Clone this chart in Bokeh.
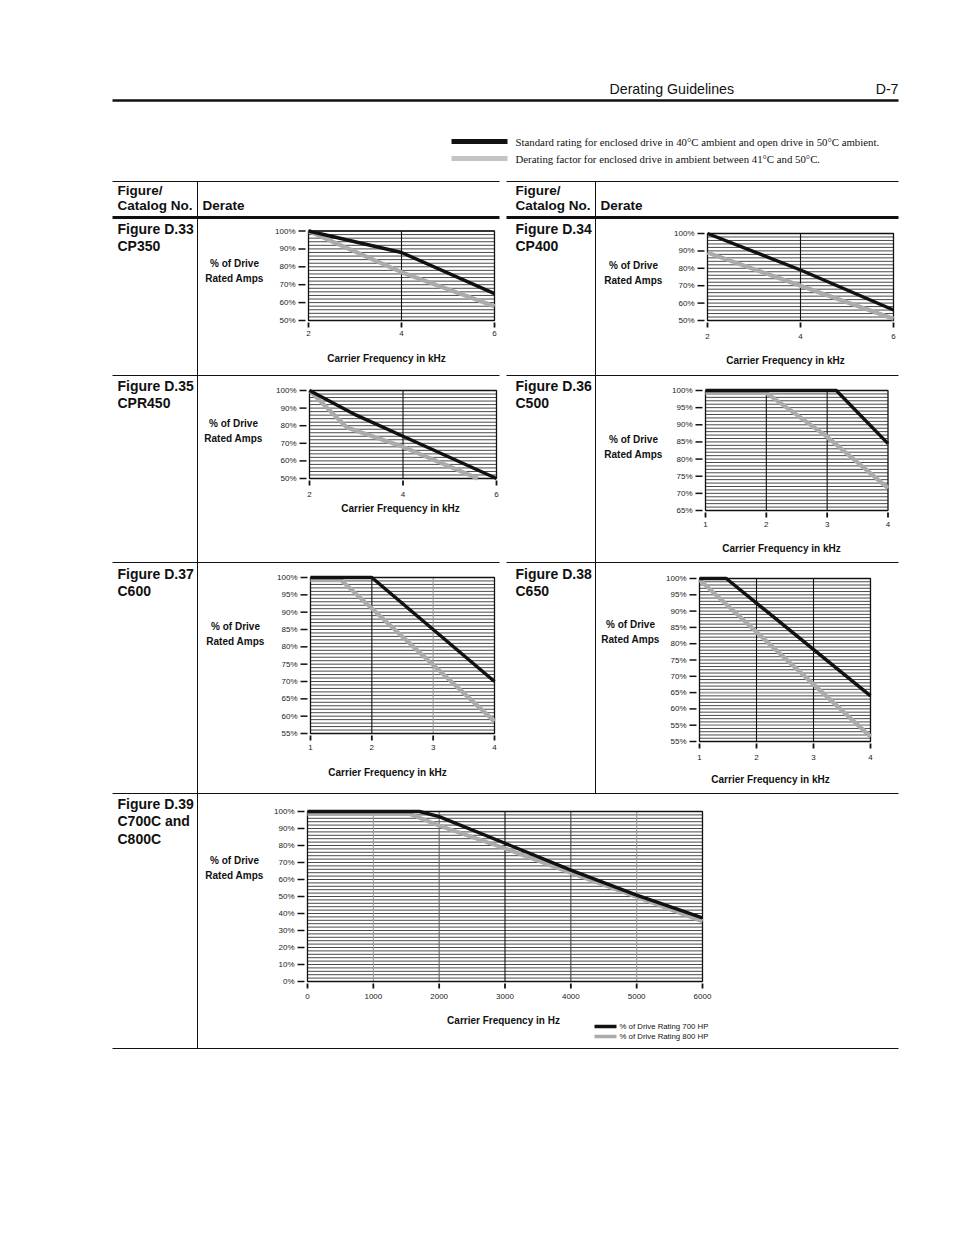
import numpy as np
from bokeh.plotting import figure
from bokeh.models import Range1d
from bokeh.core.properties import value
from bokeh.embed import file_html
from bokeh.resources import INLINE

# ---------------- data ----------------
# Figure D.33  CP350
d33_std_khz = [2, 4, 6]
d33_std_pct = [100, 88, 65]
d33_der_khz = [2, 4, 6]
d33_der_pct = [100, 77, 58]
# Figure D.34  CP400
d34_std_khz = [2, 4, 6]
d34_std_pct = [100, 79, 56]
d34_der_khz = [2, 4, 6]
d34_der_pct = [89, 70, 51]
# Figure D.35  CPR450
d35_std_khz = [2, 3, 4, 6]
d35_std_pct = [100, 86, 74, 50]
d35_der_khz = [2, 2.8, 4, 5.6]
d35_der_pct = [100, 79, 68, 50]
# Figure D.36  C500
d36_std_khz = [1, 3.15, 4]
d36_std_pct = [100, 100, 84.5]
d36_der_khz = [1, 2, 3, 4]
d36_der_pct = [99.3, 99.3, 86.5, 71.5]
# Figure D.37  C600
d37_std_khz = [1, 2, 4]
d37_std_pct = [100, 100, 70]
d37_der_khz = [1, 1.5, 4]
d37_der_pct = [99.2, 99.2, 58.5]
# Figure D.38  C650
d38_std_khz = [1, 1.47, 4]
d38_std_pct = [100, 100, 64]
d38_der_khz = [1, 4]
d38_der_pct = [99.6, 51.5]
# Figure D.39  C700C and C800C
d39_700_hz = [0, 1700, 2000, 3000, 4000, 5000, 6000]
d39_700_pct = [100, 100, 97, 81.3, 65.5, 50.8, 37.4]
d39_800_hz = [0, 1550, 2000, 3000, 4000, 5000, 6000]
d39_800_pct = [98.6, 98.6, 91.7, 78.3, 64, 49.8, 35.4]

# tick values / labels
yt_50_100 = [50, 60, 70, 80, 90, 100]
yl_50_100 = ["50%", "60%", "70%", "80%", "90%", "100%"]
yt_65_100 = [65, 70, 75, 80, 85, 90, 95, 100]
yl_65_100 = ["65%", "70%", "75%", "80%", "85%", "90%", "95%", "100%"]
yt_55_100 = [55, 60, 65, 70, 75, 80, 85, 90, 95, 100]
yl_55_100 = ["55%", "60%", "65%", "70%", "75%", "80%", "85%", "90%", "95%", "100%"]
yt_d38 = [50, 55, 60, 65, 70, 75, 80, 85, 90, 95, 100]
yl_d38 = ["55%", "55%", "60%", "65%", "70%", "75%", "80%", "85%", "90%", "95%", "100%"]
yt_0_100 = [0, 10, 20, 30, 40, 50, 60, 70, 80, 90, 100]
yl_0_100 = ["0%", "10%", "20%", "30%", "40%", "50%", "60%", "70%", "80%", "90%", "100%"]
xt_246 = [2, 4, 6]
xt_1234 = [1, 2, 3, 4]
xt_hz = [0, 1000, 2000, 3000, 4000, 5000, 6000]

# ---------------- styles ----------------
BLACK = "#111111"
GRAY = "#ababab"
SANS = value("Liberation Sans")
SERIF = value("Liberation Serif")

W, H = 954, 1235
p = figure(width=W, height=H, x_range=Range1d(0, W), y_range=Range1d(H, 0),
           output_backend="svg", toolbar_location=None, min_border=0,
           x_axis_location=None, y_axis_location=None)
p.grid.visible = False
p.outline_line_color = None
p.background_fill_color = "white"
p.border_fill_color = "white"


def txt(x, y, s, size, bold=False, align="left", font=SANS, color="#111111"):
    p.text(x=[x], y=[y], text=[s], text_font=font, text_font_size=f"{size}px",
           text_font_style="bold" if bold else "normal", text_align=align,
           text_baseline="middle", text_color=color)


def hline(x0, x1, y, w=1.0, color="#111111"):
    p.segment(x0=[x0], y0=[y], x1=[x1], y1=[y], line_color=color, line_width=w)


def vline(x, y0, y1, w=1.0, color="#111111"):
    p.segment(x0=[x], y0=[y0], x1=[x], y1=[y1], line_color=color, line_width=w)


# ---------------- page header ----------------
txt(609, 88, "Derating Guidelines", 14.2)
txt(898, 88, "D-7", 14.2, align="right")
hline(112, 898, 100, w=2.5)

# legend
hline(451, 507, 141, w=5, color=BLACK)
hline(451, 507, 158, w=5, color="#c4c4c4")
txt(515, 141, "Standard rating for enclosed drive in 40°C ambient and open drive in 50°C ambient.", 10.8, font=SERIF)
txt(515, 158, "Derating factor for enclosed drive in ambient between 41°C and 50°C.", 10.8, font=SERIF)

# ---------------- table lines ----------------
for y, w in [(181, 1.0), (217, 3.2), (375, 1.0), (562, 1.0)]:
    hline(112, 499, y, w=w)
    hline(506, 898, y, w=w)
hline(112, 898, 793, w=1.0)
hline(112, 898, 1048, w=1.0)
vline(197, 181, 1048)
vline(595, 181, 793)

# table headers
for x0, xd in [(117, 202), (515, 600)]:
    txt(x0, 190, "Figure/", 13.5, bold=True)
    txt(x0, 205, "Catalog No.", 13.5, bold=True)
    txt(xd, 205, "Derate", 13.5, bold=True)

# figure labels
fig_labels = [
    (117, 228, ["Figure D.33", "CP350"]),
    (515, 228, ["Figure D.34", "CP400"]),
    (117, 385, ["Figure D.35", "CPR450"]),
    (515, 385, ["Figure D.36", "C500"]),
    (117, 573, ["Figure D.37", "C600"]),
    (515, 573, ["Figure D.38", "C650"]),
    (117, 803, ["Figure D.39", "C700C and", "C800C"]),
]
for x, y, lines in fig_labels:
    for i, s in enumerate(lines):
        txt(x, y + 17.5 * i, s, 14, bold=True)

# ---------------- charts ----------------
charts = [
    dict(xr=(2, 6), yr=(50, 100), tx=(308, 494), ty=(320, 230.5), gstep=2,
         yt=yt_50_100, yl=yl_50_100, xt=xt_246, xoff=13,
         vgrid=[(4, BLACK)],
         series=[(d33_der_khz, d33_der_pct, GRAY), (d33_std_khz, d33_std_pct, BLACK)],
         ytitle=(234, 263), xtitle=(386, 358), xunit="kHz"),
    dict(xr=(2, 6), yr=(50, 100), tx=(707, 893), ty=(320, 233), gstep=2,
         yt=yt_50_100, yl=yl_50_100, xt=xt_246, xoff=16,
         vgrid=[(4, BLACK)],
         series=[(d34_der_khz, d34_der_pct, GRAY), (d34_std_khz, d34_std_pct, BLACK)],
         ytitle=(633, 265), xtitle=(785, 360), xunit="kHz"),
    dict(xr=(2, 6), yr=(50, 100), tx=(309, 496), ty=(478, 390), gstep=2,
         yt=yt_50_100, yl=yl_50_100, xt=xt_246, xoff=16,
         vgrid=[(4, BLACK)],
         series=[(d35_der_khz, d35_der_pct, GRAY), (d35_std_khz, d35_std_pct, BLACK)],
         ytitle=(233, 423), xtitle=(400, 508), xunit="kHz"),
    dict(xr=(1, 4), yr=(65, 100), tx=(705, 887.5), ty=(510, 390), gstep=1,
         yt=yt_65_100, yl=yl_65_100, xt=xt_1234, xoff=14,
         vgrid=[(2, BLACK), (3, BLACK)],
         series=[(d36_der_khz, d36_der_pct, GRAY), (d36_std_khz, d36_std_pct, BLACK)],
         ytitle=(633, 439), xtitle=(781, 548), xunit="kHz"),
    dict(xr=(1, 4), yr=(55, 100), tx=(310, 494), ty=(733, 577), gstep=1,
         yt=yt_55_100, yl=yl_55_100, xt=xt_1234, xoff=14,
         vgrid=[(2, BLACK), (3, "#999999")],
         series=[(d37_der_khz, d37_der_pct, GRAY), (d37_std_khz, d37_std_pct, BLACK)],
         ytitle=(235, 626), xtitle=(387, 772), xunit="kHz"),
    dict(xr=(1, 4), yr=(50, 100), tx=(699, 870), ty=(741, 578), gstep=1,
         yt=yt_d38, yl=yl_d38, xt=xt_1234, xoff=16,
         vgrid=[(2, BLACK), (3, BLACK)], hgray=[65, 55],
         series=[(d38_der_khz, d38_der_pct, GRAY), (d38_std_khz, d38_std_pct, BLACK)],
         ytitle=(630, 624), xtitle=(770, 779), xunit="kHz"),
    dict(xr=(0, 6000), yr=(0, 100), tx=(307, 702), ty=(981, 811), gstep=2,
         yt=yt_0_100, yl=yl_0_100, xt=xt_hz, xoff=15,
         vgrid=[(1000, "#9a9a9a"), (2000, "#666666"), (3000, BLACK), (4000, "#444444"), (5000, "#9a9a9a")],
         series=[(d39_800_hz, d39_800_pct, GRAY), (d39_700_hz, d39_700_pct, BLACK)],
         ytitle=(234, 860), xtitle=(503, 1020), xunit="Hz"),
]

for c in charts:
    x0, x1 = c["xr"]
    y0, y1 = c["yr"]
    L, R = c["tx"]
    B, T = c["ty"]
    sub = p.subplot(x_source=Range1d(x0, x1), y_source=Range1d(y0, y1),
                    x_target=Range1d(L, R), y_target=Range1d(B, T))
    ux = (x1 - x0) / (R - L)   # data units per pixel
    uy = (y1 - y0) / (B - T)
    # dense horizontal grid
    hy = list(np.arange(y0, y1 + 1e-9, c["gstep"]))
    n = len(hy)
    sub.segment(x0=[x0] * n, y0=hy, x1=[x1] * n, y1=hy, line_color="#1c1c1c",
                line_width=0.8, level="underlay")
    for gy in c.get("hgray", []):
        sub.segment(x0=[x0], y0=[gy], x1=[x1], y1=[gy], line_color="#a8a8a8",
                    line_width=1.6, level="underlay")
    # vertical grid
    vx = [v for v, _ in c["vgrid"]]
    vc = [col for _, col in c["vgrid"]]
    sub.segment(x0=vx, y0=[y0] * len(vx), x1=vx, y1=[y1] * len(vx), line_color=vc,
                line_width=1.1, level="underlay")
    # frame
    sub.quad(left=[x0], right=[x1], bottom=[y0], top=[y1], fill_color=None,
             line_color="#111111", line_width=1.3, level="underlay")
    # data
    for xs, ys, col in c["series"]:
        sub.line(xs, ys, line_color=col, line_width=4.2 if col == GRAY else 3.4,
                 line_join="round", level="annotation")
    # y ticks
    k = len(c["yt"])
    sub.segment(x0=[x0 - 10 * ux] * k, y0=c["yt"], x1=[x0 - 3 * ux] * k, y1=c["yt"],
                line_color="#111111", line_width=1.5)
    sub.text(x=[x0] * k, y=c["yt"], text=c["yl"], x_offset=-13, text_align="right",
             text_baseline="middle", text_font=SANS, text_font_size="8px", text_color="#222222")
    # x ticks
    m = len(c["xt"])
    sub.segment(x0=c["xt"], y0=[y0 - 2 * uy] * m, x1=c["xt"], y1=[y0 - 7 * uy] * m,
                line_color="#111111", line_width=1.8)
    sub.text(x=c["xt"], y=[y0] * m, text=[str(v) for v in c["xt"]], y_offset=c["xoff"],
             text_align="center", text_baseline="middle", text_font=SANS,
             text_font_size="8px", text_color="#222222")
    # titles
    tx_, ty_ = c["ytitle"]
    txt(tx_, ty_, "% of Drive", 10, bold=True, align="center")
    txt(tx_, ty_ + 15, "Rated Amps", 10, bold=True, align="center")
    ax_, ay_ = c["xtitle"]
    txt(ax_, ay_, f"Carrier Frequency in {c['xunit']}", 10, bold=True, align="center")

# D.39 legend
hline(594, 616, 1026, w=3.5, color=BLACK)
hline(594, 616, 1036, w=3.5, color=GRAY)
txt(619, 1026, "% of Drive Rating 700 HP", 7.8)
txt(619, 1036, "% of Drive Rating 800 HP", 7.8)

open("out.html", "w").write(file_html(p, INLINE))
